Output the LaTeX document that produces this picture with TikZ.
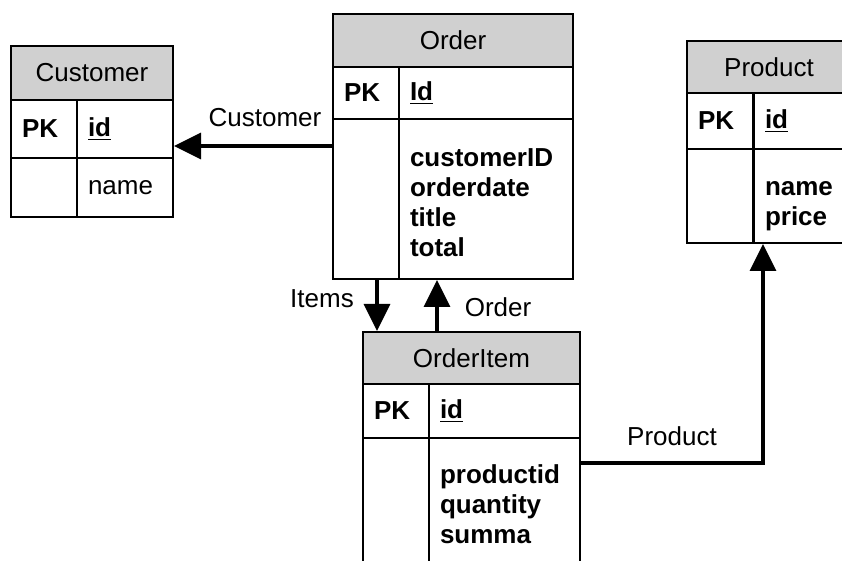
\documentclass[tikz,border=0pt]{standalone}
\usepackage{fontspec}
\setmainfont{Liberation Sans}
\usepackage{xcolor}
\usepackage{tikz}
\usetikzlibrary{arrows.meta}
\definecolor{hdrgray}{RGB}{208,208,208}

\begin{document}
\begin{tikzpicture}[x=0.5pt, y=-0.5pt, font=\fontsize{13}{15}\selectfont,
  tblhead/.style={draw, fill=hdrgray, line width=1pt, anchor=north west, inner sep=0pt, minimum width=#1},
  pkcell/.style={draw, line width=1pt, anchor=north west, inner xsep=5.5pt, inner ysep=0pt, text width=22pt, align=left},
  fldcell/.style={draw, line width=1pt, anchor=north west, inner xsep=5.5pt, inner ysep=0pt, text width=#1, align=left},
  rlbl/.style={inner sep=0pt}]
\clip (0,0) rectangle (842,561);

% Customer
\node[tblhead=81pt, minimum height=27pt]     (custH)  at (10,45)   {Customer};
\node[pkcell, minimum height=29pt]           (custPK) at (10,99)   {\textbf{PK}};
\node[fldcell=37pt, minimum height=29pt]     (custId) at (76,99)   {\textbf{\underline{id}}};
\node[pkcell, minimum height=29.5pt]         (custL)  at (10,157)  {};
\node[fldcell=37pt, minimum height=29.5pt]   (custA)  at (76,157)  {name};

% Order
\node[tblhead=120pt, minimum height=26.5pt]  (ordH)   at (332,13)  {Order};
\node[pkcell, minimum height=26pt]           (ordPK)  at (332,66)  {\textbf{PK}};
\node[fldcell=76pt, minimum height=26pt]     (ordId)  at (398,66)  {\textbf{\underline{Id}}};
\node[pkcell, minimum height=80pt]           (ordL)   at (332,118) {};
\node[fldcell=76pt, minimum height=80pt]     (ordA)   at (398,118) {\bfseries\rule{0pt}{13pt}customerID\\ orderdate\\ title\\ total};

% OrderItem
\node[tblhead=108.5pt, minimum height=26pt]  (itemH)  at (362,331) {OrderItem};
\node[pkcell, minimum height=27pt]           (itemPK) at (362,383) {\textbf{PK}};
\node[fldcell=64.5pt, minimum height=27pt]   (itemId) at (428,383) {\textbf{\underline{id}}};
\node[pkcell, minimum height=66.5pt]         (itemL)  at (362,437) {};
\node[fldcell=64.5pt, minimum height=66.5pt] (itemA)  at (428,437) {\bfseries productid\\ quantity\\ summa};

% Product
\node[tblhead=82pt, minimum height=26pt]     (prodH)  at (686,40)  {Product};
\node[pkcell, minimum height=28pt]           (prodPK) at (686,92)  {\textbf{PK}};
\node[fldcell=37.5pt, minimum height=28pt]   (prodId) at (753,92)  {\textbf{\underline{id}}};
\node[pkcell, minimum height=47pt]           (prodL)  at (686,148) {};
\node[fldcell=37.5pt, minimum height=47pt]   (prodA)  at (753,148) {\bfseries\rule{0pt}{16.8pt}name\\ price};

\node[rlbl] (lcust)  at (265,118) {Customer};
\node[rlbl] (litems) at (322,299) {Items};
\node[rlbl] (lorder) at (498,307) {Order};
\node[rlbl] (lprod)  at (672,436) {Product};

\path[->, >={Triangle[length=13.5pt, width=13pt]}, line width=1.6pt]
  (ordL.west |- 0,146) edge (custId.east |- 0,146)
  (377,0 |- ordL.south) edge (377,0 |- itemH.north)
  (437,0 |- itemH.north) edge (437,0 |- ordA.south)
  (itemA.east |- 0,463) edge[to path={-| (\tikztotarget)}] (763,0 |- prodA.south);
\end{tikzpicture}
\end{document}
